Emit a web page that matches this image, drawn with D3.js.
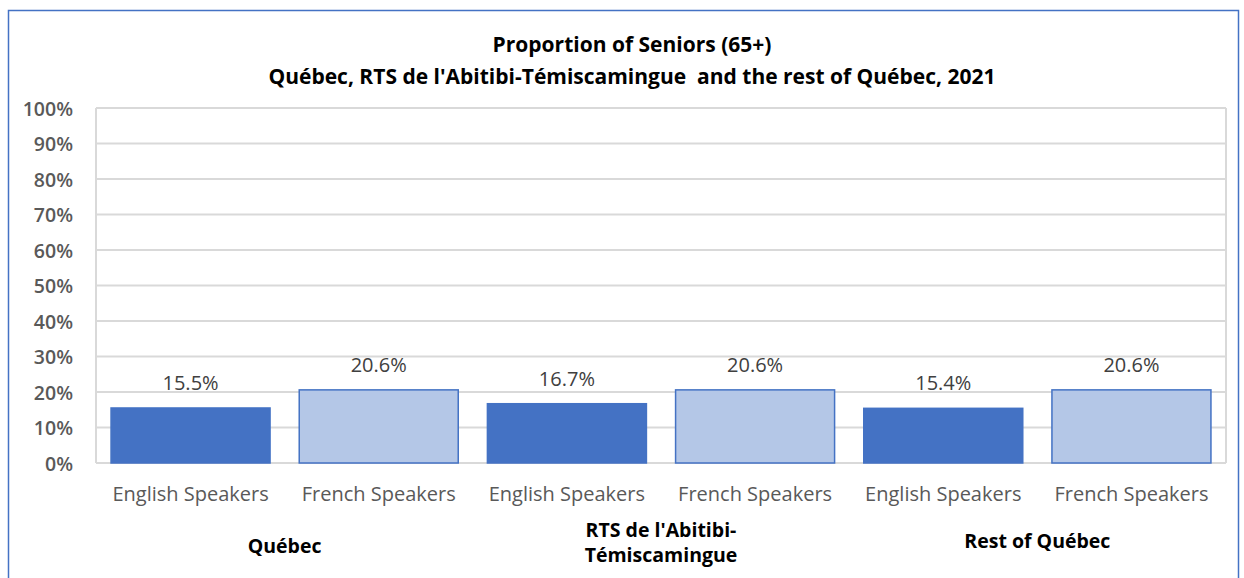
<!DOCTYPE html>
<html>
<head>
<meta charset="utf-8">
<script src="https://cdn.jsdelivr.net/npm/d3@7"></script>
<style>
  body { margin: 0; background: #fff; }
  svg text { font-family: "Open Sans", "Liberation Sans", sans-serif; }
</style>
</head>
<body>
<div id="chart"></div>
<script>
const titleLines = ["Proportion of Seniors (65+)", "Québec, RTS de l'Abitibi-Témiscamingue  and the rest of Québec, 2021"];
const groups = ["Québec", "RTS de l'Abitibi-Témiscamingue", "Rest of Québec"];
const groupLines = [["Québec"], ["RTS de l'Abitibi-", "Témiscamingue"], ["Rest of Québec"]];
const speakers = ["English Speakers", "French Speakers"];
const values = [[15.5, 20.6], [16.7, 20.6], [15.4, 20.6]];
const yTicks = [0, 10, 20, 30, 40, 50, 60, 70, 80, 90, 100];

var width = 1244, height = 578;
var margin = { left: 96, top: 108, right: 18, bottom: 115 };
var colors = { "English Speakers": "#4472C4", "French Speakers": "#B4C7E7" };

var rows = [];
groups.forEach((g, i) => speakers.forEach((s, j) => {
    rows.push({ key: g + "|" + s, group: g, speaker: s, value: values[i][j], gi: i });
}));

var svg = d3.select("#chart").append("svg")
    .attr("width", width)
    .attr("height", height);

// outer frame
svg.append("rect")
    .attr("x", 8.5).attr("y", 10.5)
    .attr("width", 1230).attr("height", 600)
    .attr("fill", "none")
    .attr("stroke", "#4472C4")
    .attr("stroke-width", 1.5);

var x = d3.scaleBand()
    .domain(rows.map(d => d.key))
    .range([margin.left, width - margin.right])
    .paddingInner(0.155)
    .paddingOuter(0.08);

var y = d3.scaleLinear()
    .domain([0, 100])
    .range([height - margin.bottom, margin.top]);

// gridlines
svg.append("g")
    .selectAll("line")
    .data(yTicks)
    .enter().append("line")
    .attr("x1", margin.left).attr("x2", width - margin.right)
    .attr("y1", d => y(d)).attr("y2", d => y(d))
    .attr("stroke", "#D9D9D9")
    .attr("stroke-width", 2);

// plot side lines
[margin.left, width - margin.right].forEach(xx => {
    svg.append("line")
        .attr("x1", xx).attr("x2", xx)
        .attr("y1", y(100)).attr("y2", y(0))
        .attr("stroke", "#D9D9D9")
        .attr("stroke-width", 2);
});

// y axis
var yAxis = svg.append("g")
    .attr("transform", "translate(" + (margin.left - 23) + ",0)")
    .call(d3.axisLeft(y).tickValues(yTicks).tickFormat(d => d + "%").tickSize(0).tickPadding(0));
yAxis.select(".domain").remove();
yAxis.selectAll("text")
    .attr("fill", "#595959")
    .style("font-size", "19.5px")
    .style("font-weight", "600")
    .attr("dy", "0.36em");

// bars
svg.append("g")
    .selectAll("rect")
    .data(rows)
    .enter().append("rect")
    .attr("x", d => x(d.key))
    .attr("y", d => y(d.value))
    .attr("width", x.bandwidth())
    .attr("height", d => y(0) - y(d.value))
    .attr("fill", d => colors[d.speaker])
    .attr("stroke", "#4472C4")
    .attr("stroke-width", 1.5);

// value labels
svg.append("g")
    .selectAll("text")
    .data(rows)
    .enter().append("text")
    .attr("x", d => x(d.key) + x.bandwidth() / 2)
    .attr("y", d => y(d.value) - 18)
    .attr("text-anchor", "middle")
    .attr("fill", "#404040")
    .style("font-size", "20px")
    .text(d => d.value.toFixed(1) + "%");

// category labels
svg.append("g")
    .selectAll("text")
    .data(rows)
    .enter().append("text")
    .attr("x", d => x(d.key) + x.bandwidth() / 2)
    .attr("y", 501)
    .attr("text-anchor", "middle")
    .attr("fill", "#595959")
    .style("font-size", "20px")
    .text(d => d.speaker);

// group labels
var groupY = [[553], [537, 562], [548]];
groups.forEach((g, i) => {
    var first = x(g + "|" + speakers[0]);
    var last = x(g + "|" + speakers[1]) + x.bandwidth();
    var cx = (first + last) / 2;
    groupLines[i].forEach((line, k) => {
        svg.append("text")
            .attr("x", cx)
            .attr("y", groupY[i][k])
            .attr("text-anchor", "middle")
            .attr("fill", "#000")
            .style("font-size", "19.5px")
            .style("font-weight", "bold")
            .text(line);
    });
});

// title
titleLines.forEach((t, i) => {
    svg.append("text")
        .attr("x", 632)
        .attr("y", 52 + i * 32)
        .attr("text-anchor", "middle")
        .attr("fill", "#000")
        .style("font-size", "21px")
        .style("font-weight", "bold")
        .style("white-space", "pre")
        .text(t);
});
</script>
</body>
</html>
